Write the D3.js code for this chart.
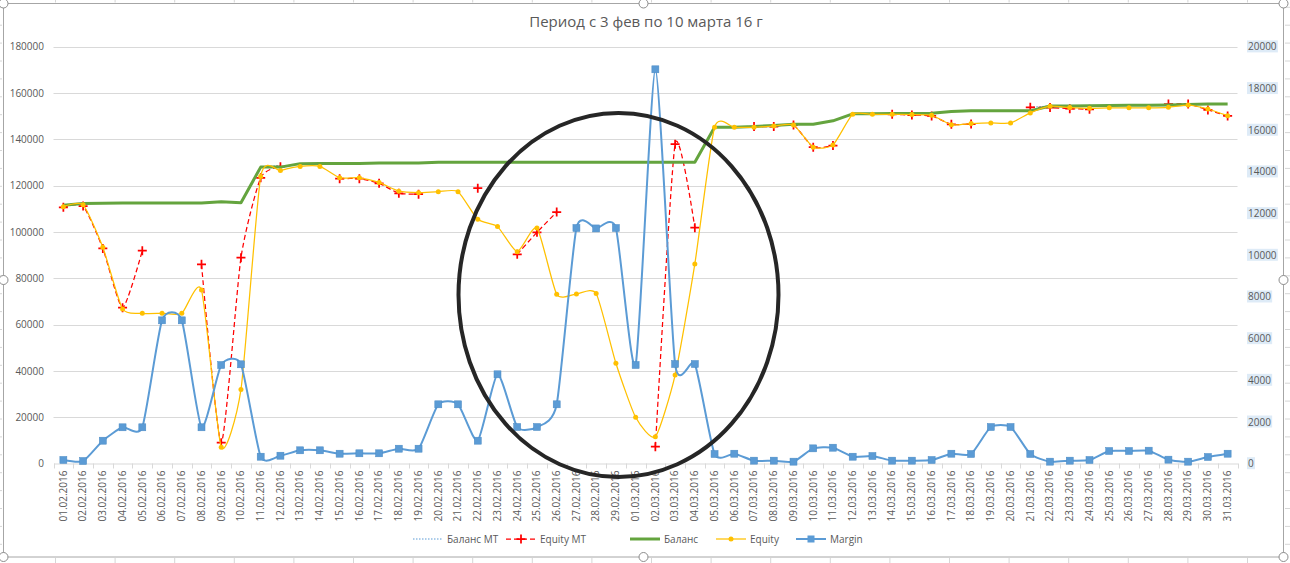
<!DOCTYPE html>
<html><head><meta charset="utf-8">
<script src="https://cdn.jsdelivr.net/npm/d3@7"></script>
<style>
html,body{margin:0;padding:0;background:#fff;}
svg{display:block;font-family:"Open Sans",sans-serif;}
</style></head>
<body><svg id="c" width="1290" height="563"></svg>
<script>
const title = "Период с 3 фев по 10 марта 16 г";
const dates = ["01.02.2016","02.02.2016","03.02.2016","04.02.2016","05.02.2016","06.02.2016","07.02.2016","08.02.2016","09.02.2016","10.02.2016",
"11.02.2016","12.02.2016","13.02.2016","14.02.2016","15.02.2016","16.02.2016","17.02.2016","18.02.2016","19.02.2016","20.02.2016",
"21.02.2016","22.02.2016","23.02.2016","24.02.2016","25.02.2016","26.02.2016","27.02.2016","28.02.2016","29.02.2016",
"01.03.2016","02.03.2016","03.03.2016","04.03.2016","05.03.2016","06.03.2016","07.03.2016","08.03.2016","09.03.2016","10.03.2016",
"11.03.2016","12.03.2016","13.03.2016","14.03.2016","15.03.2016","16.03.2016","17.03.2016","18.03.2016","19.03.2016","20.03.2016",
"21.03.2016","22.03.2016","23.03.2016","24.03.2016","25.03.2016","26.03.2016","27.03.2016","28.03.2016","29.03.2016","30.03.2016","31.03.2016"];

const seriesNames = ["Баланс MT","Equity MT","Баланс","Equity","Margin"];

const balance = [111500,112300,112400,112500,112500,112500,112500,112500,113000,112600,
128000,128000,129500,129600,129600,129600,129800,129800,129800,130100,
130100,130100,130100,130100,130100,130100,130100,130100,130100,
130100,130100,130100,130100,145200,145200,145500,146000,146500,146500,
148000,151000,151000,151100,151200,151300,152000,152300,152300,152300,
152300,154400,154400,154500,154600,154700,154700,154800,155000,155300,155300];

const equity = [110900,111700,93400,66700,64850,64850,64850,74900,7000,32000,
123900,126500,128300,128300,123400,123400,121400,117600,116950,117400,
117400,105450,102300,91500,101700,73100,73200,73400,43300,
19950,11600,38200,86200,145200,145200,145200,145700,146200,136600,
137600,150800,150800,150800,150700,150400,146300,146800,147100,147100,
151400,154300,153700,153400,153600,153600,153600,153850,154800,153100,150200];

const equityMT = [110650,111200,92900,67300,91900,null,null,86000,9000,88900,
123400,128200,null,null,123000,123000,121000,116700,116300,null,
null,118900,null,90350,99850,108600,null,null,null,
null,7250,137900,101850,null,null,145500,145500,146200,136600,
137300,null,null,150800,150500,150100,146500,146600,null,null,
153850,153700,153250,152950,null,null,null,155250,155250,152700,150100];

const balanceMT = [111500,112300,112400,112500,112500,null,null,112500,113000,112600,
128000,128700,null,null,129600,129600,129800,129800,129800,null,
null,130100,null,130100,130100,130100,null,null,null,
null,130100,130100,130100,null,null,145500,146000,146500,146500,
148000,null,null,151100,151200,151300,152000,152300,null,null,
153850,154400,154400,154500,null,null,null,154800,155000,155300,155300];

const margin = [170,120,1094,1737,1737,6870,6870,1737,4726,4760,
326,374,633,633,470,489,489,710,710,2840,
2840,1094,4280,1751,1751,2840,11300,11280,11300,
4726,18915,4774,4774,456,470,136,136,88,727,
758,326,360,136,136,168,470,456,1751,1751,
456,88,136,168,600,600,615,184,88,312,470];

const leftTicks = [0,20000,40000,60000,80000,100000,120000,140000,160000,180000];
const rightTicks = [0,2000,4000,6000,8000,10000,12000,14000,16000,18000,20000];

const svg = d3.select("#c");
const W = 1290, H = 563;
const plot = {l:53.5, r:1237.5, t:46.7, b:463.5};

svg.append("rect").attr("width",W).attr("height",H).attr("fill","#fff");

// spreadsheet grid outside chart
const outside = svg.append("g").attr("stroke","#d6d6d6").attr("stroke-width",1);
for (let k=0;k<31;k++){ const y=7.3+17.9*k;
  outside.append("line").attr("x1",0).attr("x2",2).attr("y1",y).attr("y2",y);
  outside.append("line").attr("x1",1285).attr("x2",1290).attr("y1",y).attr("y2",y);}
for (let k=0;k<22;k++){ const x=55.5+59.6*k;
  outside.append("line").attr("x1",x).attr("x2",x).attr("y1",0).attr("y2",2.5);
  outside.append("line").attr("x1",x).attr("x2",x).attr("y1",558).attr("y2",563);}

// chart border
svg.append("rect").attr("x",3.5).attr("y",3.5).attr("width",1280).attr("height",553.5)
  .attr("fill","#fff").attr("stroke","#a6a6a6").attr("stroke-width",1);

const x = d3.scaleBand().domain(dates).range([plot.l, plot.r]);
const xc = d => x(d) + x.bandwidth()/2;
const yL = d3.scaleLinear().domain([0,180000]).range([plot.b, plot.t]);
const yR = d3.scaleLinear().domain([0,20000]).range([plot.b, plot.t]);

// title
svg.append("text").attr("x",646).attr("y",27).attr("text-anchor","middle")
  .attr("font-size","15px").attr("fill","#595959").text(title);

// gridlines
svg.append("g").selectAll("line").data(leftTicks.slice(1)).join("line")
  .attr("x1",plot.l).attr("x2",plot.r)
  .attr("y1",d=>Math.round(yL(d))+0.5).attr("y2",d=>Math.round(yL(d))+0.5)
  .attr("stroke","#d9d9d9").attr("stroke-width",1);

// left axis
const gL = svg.append("g").attr("transform","translate(44,0)")
  .call(d3.axisLeft(yL).tickValues(leftTicks).tickSize(0).tickPadding(0).tickFormat(d3.format("d")));
gL.select(".domain").remove();
gL.selectAll("text").attr("font-size","10px").attr("fill","#595959").attr("font-family","Open Sans");

// right axis
const gR = svg.append("g").attr("transform","translate(1248,0)")
  .call(d3.axisRight(yR).tickValues(rightTicks).tickSize(0).tickPadding(0).tickFormat(d3.format("d")));
gR.select(".domain").remove();
gR.selectAll("text").attr("font-size","10px").attr("fill","#595959").attr("font-family","Open Sans");
gR.selectAll(".tick").each(function(){
  const t = d3.select(this).select("text");
  const bb = t.node().getBBox();
  d3.select(this).insert("rect","text").attr("x",bb.x-1).attr("y",bb.y+1).attr("width",bb.width+2).attr("height",bb.height-2).attr("fill","#deebf7");
});

// x axis
const gX = svg.append("g").attr("transform",`translate(0,${plot.b})`)
  .call(d3.axisBottom(x).tickSize(0).tickPadding(0));
gX.select(".domain").attr("stroke","#d9d9d9");
gX.selectAll("text").attr("font-size","10px").attr("fill","#595959").attr("font-family","Open Sans")
  .attr("text-anchor","end").attr("dy","0.33em")
  .attr("transform","translate(0,7) rotate(-90)").attr("x",0).attr("y",0);
svg.append("g").selectAll("line").data(dates.concat(["__end"])).join("line")
  .attr("x1",(d,i)=>Math.round(plot.l + i*x.step())+0.5).attr("x2",(d,i)=>Math.round(plot.l + i*x.step())+0.5)
  .attr("y1",plot.b).attr("y2",plot.b+5).attr("stroke","#d9d9d9");

const curve = d3.curveCardinal.tension(0.4);
const idx = d3.range(dates.length);

// Баланс MT
svg.append("path").datum(idx)
  .attr("d", d3.line().defined(i=>balanceMT[i]!=null).x(i=>xc(dates[i])).y(i=>yL(balanceMT[i])))
  .attr("fill","none").attr("stroke","#5b9bd5").attr("stroke-width",1).attr("stroke-dasharray","1.5,1.5");

// Equity MT
svg.append("path").datum(idx)
  .attr("d", d3.line().defined(i=>equityMT[i]!=null).x(i=>xc(dates[i])).y(i=>yL(equityMT[i])).curve(curve))
  .attr("fill","none").attr("stroke","#ff0000").attr("stroke-width",1.25).attr("stroke-dasharray","5,3");
svg.append("g").selectAll("path").data(idx.filter(i=>equityMT[i]!=null)).join("path")
  .attr("d", i=>{const cx=xc(dates[i]), cy=yL(equityMT[i]); return `M${cx-4.5},${cy}H${cx+4.5}M${cx},${cy-4.5}V${cy+4.5}`;})
  .attr("stroke","#ff0000").attr("stroke-width",1.75).attr("fill","none");

// Баланс
svg.append("path").datum(idx)
  .attr("d", d3.line().x(i=>xc(dates[i])).y(i=>yL(balance[i])))
  .attr("fill","none").attr("stroke","#64a43e").attr("stroke-width",3).attr("stroke-linejoin","round");

// Equity
svg.append("path").datum(idx)
  .attr("d", d3.line().x(i=>xc(dates[i])).y(i=>yL(equity[i])).curve(curve))
  .attr("fill","none").attr("stroke","#ffc000").attr("stroke-width",1.25);
svg.append("g").selectAll("circle").data(idx).join("circle")
  .attr("cx",i=>xc(dates[i])).attr("cy",i=>yL(equity[i])).attr("r",2.5).attr("fill","#ffc000");

// Margin
svg.append("path").datum(idx)
  .attr("d", d3.line().x(i=>xc(dates[i])).y(i=>yR(margin[i])).curve(curve))
  .attr("fill","none").attr("stroke","#5b9bd5").attr("stroke-width",2);
svg.append("g").selectAll("rect").data(idx).join("rect")
  .attr("x",i=>xc(dates[i])-3.5).attr("y",i=>yR(margin[i])-3.5).attr("width",7).attr("height",7)
  .attr("fill","#5b9bd5").attr("stroke","#4a8ac4").attr("stroke-width",0.5);

// ellipse annotation
svg.append("ellipse").attr("cx",618.5).attr("cy",295).attr("rx",160).attr("ry",182)
  .attr("fill","none").attr("stroke","#262626").attr("stroke-width",4);

// legend
const lg = svg.append("g").attr("font-size","10px").attr("fill","#595959");
const ly = 539;
const textX = [447, 540, 664, 750, 830];
seriesNames.forEach((n,k)=>{
  const g = lg.append("g");
  const tx = textX[k];
  g.append("text").attr("x",tx).attr("y",ly).attr("dy","0.35em").attr("fill","#595959").text(n);
  const a=tx-34, b=tx-4, m=(a+b)/2;
  if(k===0) g.append("line").attr("x1",a).attr("x2",b).attr("y1",ly).attr("y2",ly).attr("stroke","#5b9bd5").attr("stroke-width",1).attr("stroke-dasharray","1.5,1.5");
  if(k===1){ g.append("line").attr("x1",a).attr("x2",b).attr("y1",ly).attr("y2",ly).attr("stroke","#ff0000").attr("stroke-width",1.25).attr("stroke-dasharray","5,3");
    g.append("path").attr("d",`M${m-4.5},${ly}H${m+4.5}M${m},${ly-4.5}V${ly+4.5}`).attr("stroke","#ff0000").attr("stroke-width",1.75);}
  if(k===2) g.append("line").attr("x1",a).attr("x2",b).attr("y1",ly).attr("y2",ly).attr("stroke","#64a43e").attr("stroke-width",3);
  if(k===3){ g.append("line").attr("x1",a).attr("x2",b).attr("y1",ly).attr("y2",ly).attr("stroke","#ffc000").attr("stroke-width",1.25);
    g.append("circle").attr("cx",m).attr("cy",ly).attr("r",2.5).attr("fill","#ffc000");}
  if(k===4){ g.append("line").attr("x1",a).attr("x2",b).attr("y1",ly).attr("y2",ly).attr("stroke","#5b9bd5").attr("stroke-width",2);
    g.append("rect").attr("x",m-3.5).attr("y",ly-3.5).attr("width",7).attr("height",7).attr("fill","#5b9bd5");}
});

// selection handles
const handles = [[3.5,3.5],[643.5,3.5],[1283.5,3.5],[3.5,280],[1283.5,280],[3.5,557],[643.5,557],[1283.5,557]];
svg.append("g").selectAll("circle").data(handles).join("circle")
  .attr("cx",d=>d[0]).attr("cy",d=>d[1]).attr("r",4.5)
  .attr("fill","#fff").attr("stroke","#8c8c8c").attr("stroke-width",1);
</script>
</body></html>
